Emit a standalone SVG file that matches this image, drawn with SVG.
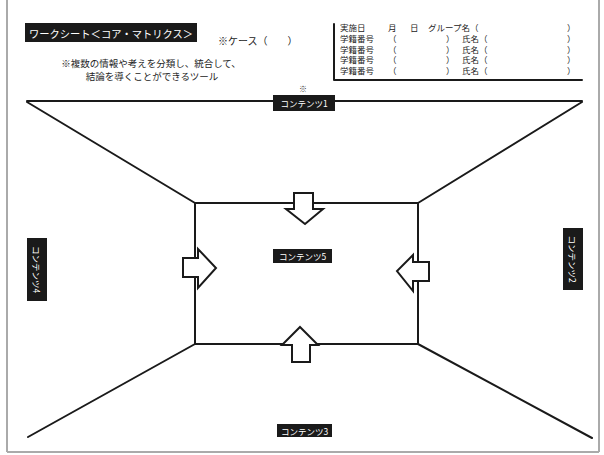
<svg xmlns="http://www.w3.org/2000/svg" width="604" height="455" viewBox="0 0 604 455">
<style>
text{font-family:"Noto Sans CJK JP","Noto Sans",sans-serif;fill:#222}
.lbl{fill:#1a1a1a}
.lt{fill:#fff;font-size:8.5px;text-anchor:middle;dominant-baseline:central}
.ln{stroke:#1a1a1a;stroke-width:2;fill:none;stroke-linecap:round;stroke-linejoin:round}
.arr{fill:#fff;stroke:#1a1a1a;stroke-width:2;stroke-linejoin:miter}
.pg{stroke:#aaa;stroke-width:2;fill:none}
.t{font-size:9.5px}
.tb{font-size:8.5px}
</style>
<g id="page">
<line class="pg" x1="7" y1="0" x2="7" y2="452"/>
<line class="pg" x1="599" y1="0" x2="599" y2="452"/>
<line class="pg" x1="7" y1="452" x2="599" y2="452"/>
</g>
<g id="header">
<rect class="lbl" x="25" y="23" width="172" height="19"/>
<text x="111" y="33" textLength="164" lengthAdjust="spacingAndGlyphs" style="fill:#fff;font-size:10.5px;text-anchor:middle;dominant-baseline:central">ワークシート＜コア・マトリクス＞</text>
<text x="218" y="45" style="font-size:10px">※ケース（　　）</text>
<text class="t" x="151" y="67" text-anchor="middle">※複数の情報や考えを分類し、統合して、</text>
<text class="t" x="152" y="80" text-anchor="middle">結論を導くことができるツール</text>
</g>
<g id="table">
<polyline class="ln" points="334,24 334,80 582,80"/>
<g class="tb">
<text x="340" y="31">実施日</text><text x="388" y="31">月</text><text x="410" y="31">日</text><text x="428" y="31">グループ名（</text><text x="567" y="31">）</text>
<text x="340" y="42">学籍番号</text><text x="388" y="42">（</text><text x="446" y="42">）</text><text x="462" y="42">氏名（</text><text x="567" y="42">）</text>
<text x="340" y="52.5">学籍番号</text><text x="388" y="52.5">（</text><text x="446" y="52.5">）</text><text x="462" y="52.5">氏名（</text><text x="567" y="52.5">）</text>
<text x="340" y="63">学籍番号</text><text x="388" y="63">（</text><text x="446" y="63">）</text><text x="462" y="63">氏名（</text><text x="567" y="63">）</text>
<text x="340" y="73.5">学籍番号</text><text x="388" y="73.5">（</text><text x="446" y="73.5">）</text><text x="462" y="73.5">氏名（</text><text x="567" y="73.5">）</text>
</g>
<text x="303" y="92" style="font-size:8px;font-family:'Noto Sans CJK JP',sans-serif;fill:#333" text-anchor="middle">※</text>
</g>
<g id="connectors">
<line class="ln" x1="27" y1="101" x2="582" y2="101"/>
<line class="ln" x1="27" y1="102" x2="195" y2="203"/>
<line class="ln" x1="582" y1="102" x2="418" y2="203"/>
<rect class="ln" x="195" y="203" width="223" height="141"/>
<line class="ln" x1="195" y1="344" x2="28" y2="437"/>
<line class="ln" x1="418" y1="344" x2="592" y2="438"/>
</g>
<g id="arrow-top"><polygon class="arr" points="294,193 313,193 313,209 323,209 305,224 286,209 294,209"/></g>
<g id="arrow-left"><polygon class="arr" points="183,258 198,258 198,249 216,268 198,288 198,277 183,277"/></g>
<g id="arrow-right"><polygon class="arr" points="429,262 413,262 413,255 397,271 413,291 413,281 429,281"/></g>
<g id="arrow-bottom"><polygon class="arr" points="300,327 318,345 310,345 310,362 292,362 292,345 282,345"/></g>
<g id="c1"><rect class="lbl" x="273" y="95" width="62" height="16"/><text class="lt" x="304" y="103">コンテンツ1</text></g>
<g id="c2"><rect class="lbl" x="563" y="228" width="20" height="62"/><text class="lt" transform="translate(573 259) rotate(90)" x="0" y="0">コンテンツ2</text></g>
<g id="c3"><rect class="lbl" x="277" y="424" width="55" height="13"/><text class="lt" x="304.5" y="430.5">コンテンツ3</text></g>
<g id="c4"><rect class="lbl" x="27" y="238" width="20" height="63"/><text class="lt" transform="translate(37 269.5) rotate(90)" x="0" y="0">コンテンツ4</text></g>
<g id="c5"><rect class="lbl" x="273" y="249" width="59" height="14"/><text class="lt" x="302.5" y="256">コンテンツ5</text></g>
</svg>
